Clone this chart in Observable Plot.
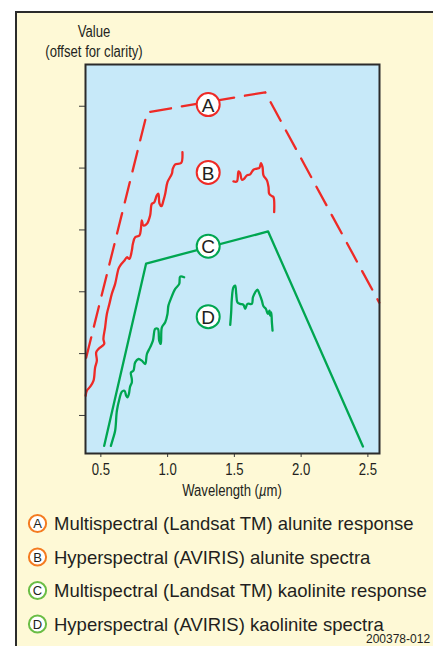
<!DOCTYPE html>
<html><head><meta charset="utf-8">
<script src="https://cdn.jsdelivr.net/npm/d3@7"></script>
<script src="https://cdn.jsdelivr.net/npm/@observablehq/plot@0.6"></script>
<style>
html,body{margin:0;padding:0;background:#fff;}
#wrap{position:relative;width:433px;height:646px;overflow:hidden;}
#box{position:absolute;left:15px;top:11px;width:460px;height:680px;background:#fef9d6;border:2px solid #2b2b2b;box-sizing:border-box;}
#chart{position:absolute;left:0;top:0;}
#legend{position:absolute;left:0;top:0;}
</style></head><body>
<div id="wrap"><div id="box"></div><div id="chart"></div><svg id="legend" width="433" height="646"></svg></div>
<script>
// ---- data ----
const xTicks = [0.5, 1.0, 1.5, 2.0, 2.5];
const xTickLabels = ["0.5", "1.0", "1.5", "2.0", "2.5"];
const yTicks = [1, 2, 3, 4, 5, 6];

// A: Multispectral (Landsat TM) alunite response
const aWave  = [0.39, 0.847, 1.731, 2.585];
const aValue = [1.934, 5.902, 6.226, 2.825];
// C: Multispectral (Landsat TM) kaolinite response
const cWave  = [0.525, 0.839, 1.753, 2.463];
const cValue = [0.509, 3.457, 3.975, 0.498];

// B: Hyperspectral (AVIRIS) alunite spectra (two segments)
const bVisWave  = [0.386,0.395,0.420,0.445,0.457,0.470,0.465,0.482,0.525,0.519,0.532,0.545,0.564,0.582,0.607,0.632,0.645,0.677,0.695,0.714,0.732,0.740,0.757,0.789,0.800,0.807,0.819,0.845,0.869,0.882,0.899,0.919,0.931,0.939,0.954,0.969,0.982,0.999,1.032,1.039,1.057,1.101,1.111];
const bVisValue = [1.319,1.400,1.465,1.562,1.777,1.886,2.020,2.075,2.156,2.237,2.425,2.642,2.804,2.966,3.128,3.371,3.424,3.505,3.558,3.533,3.667,3.776,3.882,3.910,4.018,4.153,4.072,4.099,4.234,4.423,4.444,4.558,4.585,4.428,4.384,4.477,4.585,4.773,4.909,4.990,5.060,5.081,5.259];
const bSwirWave  = [1.493,1.519,1.531,1.543,1.556,1.573,1.594,1.618,1.643,1.669,1.688,1.699,1.711,1.718,1.744,1.756,1.761,1.781,1.793,1.798];
const bSwirValue = [4.785,4.785,4.946,4.919,4.812,4.828,4.882,4.898,4.974,4.990,5.006,5.081,5.016,4.882,4.801,4.692,4.585,4.547,4.530,4.287];

// D: Hyperspectral (AVIRIS) kaolinite spectra (two segments)
const dVisWave  = [0.575,0.590,0.607,0.620,0.639,0.657,0.677,0.690,0.699,0.710,0.719,0.732,0.732,0.725,0.744,0.757,0.782,0.807,0.832,0.845,0.869,0.890,0.907,0.927,0.937,0.949,0.957,0.982,0.999,1.006,1.024,1.044,1.057,1.087,1.094,1.124];
const dVisValue = [0.509,0.618,0.752,1.076,1.266,1.384,1.400,1.319,1.291,1.347,1.465,1.534,1.589,1.696,1.724,1.858,1.913,1.886,1.832,1.994,2.101,2.210,2.399,2.399,2.210,2.156,2.425,2.506,2.642,2.776,2.885,2.992,3.047,3.128,3.246,3.235];
const dSwirWave  = [1.469,1.476,1.481,1.493,1.506,1.514,1.523,1.543,1.568,1.581,1.598,1.631,1.639,1.656,1.673,1.688,1.706,1.718,1.736,1.751,1.763,1.768,1.776,1.781,1.786];
const dSwirValue = [2.464,2.668,2.885,3.073,3.100,2.966,2.830,2.804,2.788,2.723,2.804,2.804,2.911,2.992,3.036,2.966,2.857,2.765,2.723,2.642,2.695,2.615,2.668,2.506,2.372];

// curve labels
const labelLetters = ["A", "B", "C", "D"];
const labelWave  = [1.304, 1.304, 1.304, 1.304];
const labelValue = [6.027, 4.930, 3.737, 2.598];

const legendLabels = [
  "Multispectral (Landsat TM) alunite response",
  "Hyperspectral (AVIRIS) alunite spectra",
  "Multispectral (Landsat TM) kaolinite response",
  "Hyperspectral (AVIRIS) kaolinite spectra"
];

// ---- styles ----
const RED = "#ee2a26", GREEN = "#00a651";
const curveColors = [RED, RED, GREEN, GREEN];
const legendColors = ["#f47b20", "#f47b20", "#6abd45", "#6abd45"];
const sans = "'Liberation Sans',Arial,Helvetica,sans-serif";
const SQUEEZE = 0.82; // condensed look (Helvetica Condensed-like)

const rows = (xs, ys, seg) => xs.map((x, i) => ({x, y: ys[i], seg}));
const aRows = rows(aWave, aValue, "A");
const cRows = rows(cWave, cValue, "C");
const bRows = [...rows(bVisWave, bVisValue, "B1"), ...rows(bSwirWave, bSwirValue, "B2")];
const dRows = [...rows(dVisWave, dVisValue, "D1"), ...rows(dSwirWave, dSwirValue, "D2")];
const labels = labelLetters.map((t, i) => ({t, x: labelWave[i], y: labelValue[i], c: curveColors[i]}));

const plot = Plot.plot({
  width: 433, height: 500,
  marginLeft: 85, marginRight: 54, marginTop: 64, marginBottom: 47,
  x: {domain: [0.385, 2.587]},
  y: {domain: [0.385, 6.675]},
  style: {background: "transparent", fontFamily: sans, fontSize: "16px", color: "#231f20", overflow: "visible"},
  marks: [
    Plot.frame({fill: "#c7e9f9"}),
    Plot.axisY({ticks: yTicks, tickFormat: () => "", tickSize: 6, label: null, stroke: "#3a3a3a"}),
    Plot.axisX({ticks: xTicks, tickFormat: d => xTickLabels[xTicks.indexOf(d)], tickSize: 4, tickPadding: 6.5, label: null, stroke: "#3a3a3a", fill: "#231f20"}),
    Plot.line(aRows, {x: "x", y: "y", stroke: RED, strokeWidth: 2.3, strokeDasharray: "21,11"}),
    Plot.line(bRows, {x: "x", y: "y", z: "seg", stroke: RED, strokeWidth: 2.3, curve: "catmull-rom"}),
    Plot.line(cRows, {x: "x", y: "y", stroke: GREEN, strokeWidth: 2.3}),
    Plot.line(dRows, {x: "x", y: "y", z: "seg", stroke: GREEN, strokeWidth: 2.3, curve: "catmull-rom"}),
    Plot.frame({stroke: "#2b2b2b", strokeWidth: 2}),
    Plot.dot(labels, {x: "x", y: "y", r: 11.5, fill: "white", stroke: "c", strokeWidth: 2}),
    Plot.text(labels, {x: "x", y: "y", text: "t", fontSize: 19, fontFamily: sans, fill: "#231f20", dy: 1})
  ]
});
document.getElementById("chart").appendChild(plot);

const svg = d3.select(plot);
const title = (x, y) => svg.append("text")
  .attr("transform", `translate(${x},${y}) scale(${SQUEEZE},1)`)
  .attr("text-anchor", "middle").attr("fill", "#231f20");
title(94, 37).text("Value");
title(94, 57).text("(offset for clarity)");
const xl = title(232, 496);
xl.append("tspan").text("Wavelength (");
xl.append("tspan").attr("font-style", "italic").text("\u00b5");
xl.append("tspan").text("m)");
// squeeze x tick labels
svg.selectAll("g[aria-label='x-axis tick label'] text").each(function() {
  const w = this.getComputedTextLength();
  if (w > 0) d3.select(this).attr("textLength", w * SQUEEZE).attr("lengthAdjust", "spacingAndGlyphs");
});

// ---- legend ----
const lg = d3.select("#legend");
const rowBase = [530, 563.5, 597, 630.5];
legendLabels.forEach((lab, i) => {
  const cy = rowBase[i] - 6.5;
  lg.append("circle").attr("cx", 37.5).attr("cy", cy).attr("r", 8.6)
    .attr("fill", "white").attr("stroke", legendColors[i]).attr("stroke-width", 2);
  lg.append("text").attr("x", 37.5).attr("y", cy + 4.6).attr("text-anchor", "middle")
    .attr("font-family", sans).attr("font-size", 13).attr("fill", "#231f20").text(labelLetters[i]);
  lg.append("text").attr("x", 54).attr("y", rowBase[i])
    .attr("font-family", sans).attr("font-size", 18.5).attr("fill", "#231f20").text(lab);
});
lg.append("text").attr("x", 366).attr("y", 643).attr("font-family", sans).attr("font-size", 12)
  .attr("fill", "#231f20").text("200378-012");
</script>
</body></html>
